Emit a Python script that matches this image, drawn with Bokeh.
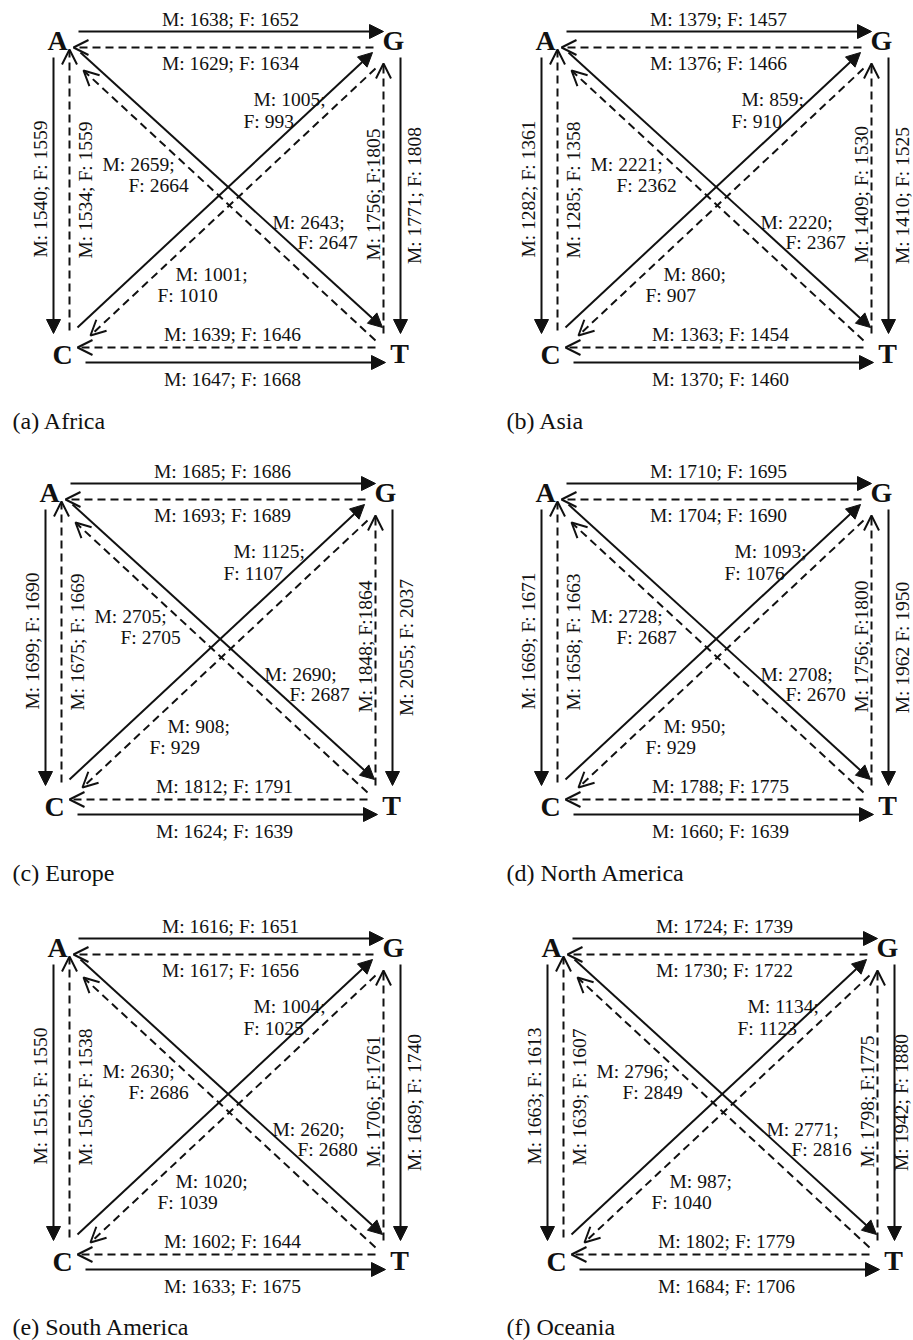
import math
from bokeh.plotting import figure
from bokeh.models import Arrow, NormalHead, OpenHead, ColumnDataSource, Range1d
from bokeh.embed import file_html
from bokeh.resources import INLINE
from bokeh.core.properties import value

# ---------------- data ----------------
regions = ["Africa", "Asia", "Europe", "North America", "South America", "Oceania"]
panel_tags = ["(a)", "(b)", "(c)", "(d)", "(e)", "(f)"]
nodes = ["A", "G", "C", "T"]

# horizontal edges
top_out_M = [1638, 1379, 1685, 1710, 1616, 1724]   # A -> G (solid)
top_out_F = [1652, 1457, 1686, 1695, 1651, 1739]
top_in_M = [1629, 1376, 1693, 1704, 1617, 1730]    # G -> A (dashed)
top_in_F = [1634, 1466, 1689, 1690, 1656, 1722]
bot_in_M = [1639, 1363, 1812, 1788, 1602, 1802]    # T -> C (dashed)
bot_in_F = [1646, 1454, 1791, 1775, 1644, 1779]
bot_out_M = [1647, 1370, 1624, 1660, 1633, 1684]   # C -> T (solid)
bot_out_F = [1668, 1460, 1639, 1639, 1675, 1706]
# vertical edges
left_out_M = [1540, 1282, 1699, 1669, 1515, 1663]  # A -> C (solid)
left_out_F = [1559, 1361, 1690, 1671, 1550, 1613]
left_in_M = [1534, 1285, 1675, 1658, 1506, 1639]   # C -> A (dashed)
left_in_F = [1559, 1358, 1669, 1663, 1538, 1607]
right_in_M = [1756, 1409, 1848, 1756, 1706, 1798]  # T -> G (dashed)
right_in_F = [1805, 1530, 1864, 1800, 1761, 1775]
right_in_sep = ["; F:", "; F: ", "; F:", "; F:", "; F:", "; F:"]
right_out_M = [1771, 1410, 2055, 1962, 1689, 1942] # G -> T (solid)
right_out_F = [1808, 1525, 2037, 1950, 1740, 1880]
right_out_sep = ["; F: ", "; F: ", "; F: ", " F: ", "; F: ", "; F: "]
# diagonal edges
diag_ur_M = [1005, 859, 1125, 1093, 1004, 1134]
diag_ur_F = [993, 910, 1107, 1076, 1025, 1123]
diag_ul_M = [2659, 2221, 2705, 2728, 2630, 2796]
diag_ul_F = [2664, 2362, 2705, 2687, 2686, 2849]
diag_lr_M = [2643, 2220, 2690, 2708, 2620, 2771]
diag_lr_F = [2647, 2367, 2687, 2670, 2680, 2816]
diag_ll_M = [1001, 860, 908, 950, 1020, 987]
diag_ll_F = [1010, 907, 929, 929, 1039, 1040]

# ---------------- layout (page pixel space) ----------------
W, H = 913, 1340
panel_dx = [0, 488, -8, 488, 0, 494]
panel_dy = [0, 0, 452, 452, 907, 907]
ur_dx = [0, 0, -12, -7, 0, 0]
ro_dx = [0, 0, 0, 0, 0, -7]
caption_xy = [(12, 420), (506, 420), (12, 872), (506, 872), (12, 1326), (506, 1326)]

node_xy = {"A": (57, 40), "G": (393, 40), "C": (62, 354), "T": (399, 353)}

solid_geom = [((78, 31), (383, 31)), ((53, 57), (53, 333)), ((400, 57), (400, 333)),
              ((85, 362), (385, 362)), ((80, 52), (382, 327)), ((77, 327), (372, 52))]
dashed_geom = [((373, 47), (73, 47)), ((69, 330), (69, 49)), ((383, 333), (383, 63)),
               ((375, 347), (77, 347)), ((375, 340), (83, 70)), ((375, 68), (90, 335))]

FONT = value("Liberation Serif")
INK = "#111111"

p = figure(width=W, height=H, x_range=Range1d(0, W), y_range=Range1d(H, 0),
           output_backend="svg", toolbar_location=None, x_axis_type=None, y_axis_type=None,
           min_border=0, outline_line_color=None, background_fill_color="white")
p.grid.visible = False

sx0, sy0, sx1, sy1 = [], [], [], []
dx0, dy0, dx1, dy1 = [], [], [], []
hz = dict(x=[], y=[], text=[])
vt = dict(x=[], y=[], text=[])
lf = dict(x=[], y=[], text=[])
nd = dict(x=[], y=[], text=[])
cap = dict(x=[], y=[], text=[])

for i in range(6):
    ox, oy = panel_dx[i], panel_dy[i]
    for (a, b) in solid_geom:
        sx0.append(a[0] + ox); sy0.append(a[1] + oy); sx1.append(b[0] + ox); sy1.append(b[1] + oy)
    for (a, b) in dashed_geom:
        dx0.append(a[0] + ox); dy0.append(a[1] + oy); dx1.append(b[0] + ox); dy1.append(b[1] + oy)
    for n in nodes:
        nd["x"].append(node_xy[n][0] + ox); nd["y"].append(node_xy[n][1] + oy); nd["text"].append(n)
    for (x, y, m, f) in [(230, 18.5, top_out_M[i], top_out_F[i]), (230, 62.5, top_in_M[i], top_in_F[i]),
                         (232, 334, bot_in_M[i], bot_in_F[i]), (232, 379, bot_out_M[i], bot_out_F[i])]:
        hz["x"].append(x + ox); hz["y"].append(y + oy); hz["text"].append(f"M: {m}; F: {f}")
    for (x, y, t) in [(40, 188.5, f"M: {left_out_M[i]}; F: {left_out_F[i]}"),
                      (85, 189.5, f"M: {left_in_M[i]}; F: {left_in_F[i]}"),
                      (372.5, 194, f"M: {right_in_M[i]}{right_in_sep[i]}{right_in_F[i]}"),
                      (413.5 + ro_dx[i], 195, f"M: {right_out_M[i]}{right_out_sep[i]}{right_out_F[i]}")]:
        vt["x"].append(x + ox); vt["y"].append(y + oy); vt["text"].append(t)
    for (x, y, t) in [(253 + ur_dx[i], 98.5, f"M: {diag_ur_M[i]};"), (243 + ur_dx[i], 121, f"F: {diag_ur_F[i]}"),
                      (102, 163.5, f"M: {diag_ul_M[i]};"), (128, 185, f"F: {diag_ul_F[i]}"),
                      (272, 221.5, f"M: {diag_lr_M[i]};"), (297, 241.5, f"F: {diag_lr_F[i]}"),
                      (175, 273.5, f"M: {diag_ll_M[i]};"), (157, 295, f"F: {diag_ll_F[i]}")]:
        lf["x"].append(x + ox); lf["y"].append(y + oy); lf["text"].append(t)
    cap["x"].append(caption_xy[i][0]); cap["y"].append(caption_xy[i][1])
    cap["text"].append(f"{panel_tags[i]} {regions[i]}")

solid_src = ColumnDataSource(dict(x0=sx0, y0=sy0, x1=sx1, y1=sy1))
dashed_src = ColumnDataSource(dict(x0=dx0, y0=dy0, x1=dx1, y1=dy1))

p.add_layout(Arrow(end=NormalHead(size=14, fill_color=INK, line_color=INK, line_width=1),
                   x_start="x0", y_start="y0", x_end="x1", y_end="y1", source=solid_src,
                   line_color=INK, line_width=2))
p.add_layout(Arrow(end=OpenHead(size=15, line_color=INK, line_width=2),
                   x_start="x0", y_start="y0", x_end="x1", y_end="y1", source=dashed_src,
                   line_color=INK, line_width=2, line_dash="8 5"))

common = dict(text_font=FONT, text_baseline="middle", text_color=INK)
p.text(x="x", y="y", text="text", source=ColumnDataSource(hz), text_font_size="19.5px",
       text_align="center", **common)
p.text(x="x", y="y", text="text", source=ColumnDataSource(vt), angle=math.pi / 2,
       text_font_size="19.5px", text_align="center", **common)
p.text(x="x", y="y", text="text", source=ColumnDataSource(lf), text_font_size="19.5px",
       text_align="left", **common)
p.text(x="x", y="y", text="text", source=ColumnDataSource(nd), text_font_size="28px",
       text_font_style="bold", text_align="center", **common)
p.text(x="x", y="y", text="text", source=ColumnDataSource(cap), text_font_size="24px",
       text_align="left", **common)

open("out.html", "w").write(file_html(p, INLINE))
